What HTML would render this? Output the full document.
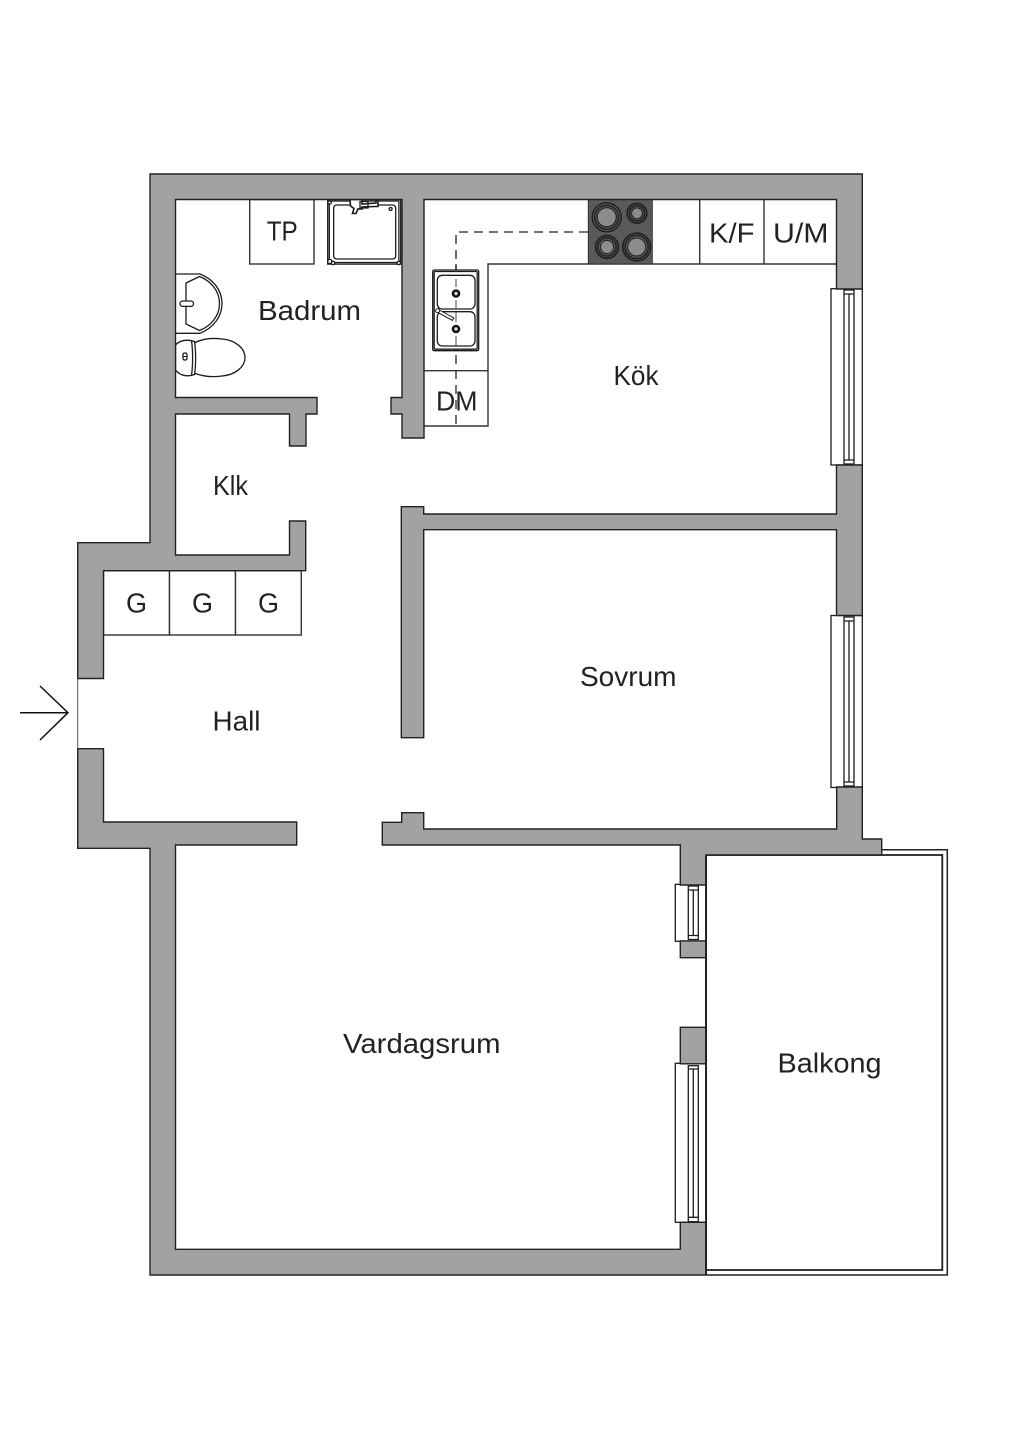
<!DOCTYPE html>
<html><head><meta charset="utf-8"><style>
html,body{margin:0;padding:0;background:#fff}
svg{display:block}
text{font-family:"Liberation Sans",sans-serif;font-size:28px;fill:#222;font-weight:normal}
.w{fill:#a2a2a2;stroke:#222;stroke-width:1.4;stroke-linejoin:miter}
.l{fill:#fff;stroke:#333;stroke-width:1.4}
.t{fill:none;stroke:#1c1c1c;stroke-width:1.3}
.f{fill:#fff;stroke:#1c1c1c;stroke-width:1.3}
</style></head><body>
<svg width="1024" height="1448" viewBox="0 0 1024 1448" xmlns="http://www.w3.org/2000/svg">
<rect width="1024" height="1448" fill="#fff"/>

<!-- balcony -->
<path d="M881.7 849.7H947.3V1275H706" fill="none" stroke="#222" stroke-width="1.5"/>
<path d="M706 855H942.3V1270H706Z" fill="#fff" stroke="#1c1c1c" stroke-width="1.8"/>

<!-- closets and counters -->
<rect class="l" x="103.5" y="570.7" width="66" height="64.3"/>
<rect class="l" x="169.5" y="570.7" width="66" height="64.3"/>
<rect class="l" x="235.5" y="570.7" width="65.8" height="64.3"/>
<rect class="l" x="249.7" y="199.5" width="64.3" height="64.5"/>
<path class="l" d="M424 426H488V264H836.5" style="fill:none"/>
<path class="l" d="M424 370.7H488" style="fill:none"/>
<path class="l" d="M699.7 199.5V264M764 199.5V264" style="fill:none"/>

<!-- dashed -->
<path d="M588 232H456V426" fill="none" stroke="#222" stroke-width="1.3" stroke-dasharray="9 6"/>

<!-- hob -->
<rect x="588.3" y="199.5" width="64" height="64.5" fill="#5a5a5a" stroke="#333"/>
<g fill="#8c8c8c" stroke="#1f1f1f">
<circle cx="606.7" cy="217.3" r="14.5" stroke-width="1.4" fill="#5a5a5a"/><circle cx="606.7" cy="217.3" r="12" stroke-width="1.4" fill="#5a5a5a"/><circle cx="606.7" cy="217.3" r="9.6" stroke-width="1.2"/>
<circle cx="637" cy="213.3" r="10" stroke-width="1.4" fill="#444"/><circle cx="637" cy="213.3" r="7.5" stroke-width="1.3" fill="#5a5a5a"/><circle cx="637" cy="213.3" r="5.4" stroke-width="1"/>
<circle cx="607" cy="247" r="11.5" stroke-width="1.4" fill="#444"/><circle cx="607" cy="247" r="9" stroke-width="1.3" fill="#5a5a5a"/><circle cx="607" cy="247" r="6.6" stroke-width="1"/>
<circle cx="636.7" cy="247" r="14" stroke-width="1.4" fill="#444"/><circle cx="636.7" cy="247" r="11.5" stroke-width="1.3" fill="#5a5a5a"/><circle cx="636.7" cy="247" r="9" stroke-width="1"/>
</g>

<!-- sink -->
<rect class="f" x="432.7" y="270" width="46" height="80.7" rx="1.5"/>
<rect class="t" x="434.2" y="271.5" width="43" height="77.7" rx="1"/>
<rect class="f" x="437.3" y="275.3" width="37.7" height="33.7" rx="5"/>
<rect class="f" x="437.3" y="311.7" width="37.7" height="34.3" rx="5"/>
<path d="M456 264V270" stroke="#222" stroke-width="1.3"/>
<path d="M456 279V287M456 300V309M456 312V322M456 336V346" stroke="#444" stroke-width="1"/>
<circle cx="456" cy="293.5" r="3" fill="#ddd" stroke="#111" stroke-width="2.6"/>
<circle cx="456" cy="329" r="3" fill="#ddd" stroke="#111" stroke-width="2.6"/>
<path d="M438.5 309.5L453.8 318L452.5 320.4L437 312Z" fill="#fff" stroke="#1c1c1c"/>
<circle cx="437.6" cy="310.6" r="2" fill="#fff" stroke="#1c1c1c"/>

<!-- shower -->
<rect class="f" x="327.7" y="199.5" width="73" height="64.6"/>
<rect class="t" x="329.3" y="201" width="69.6" height="61.5"/>
<rect class="t" x="333.7" y="205" width="62" height="54" rx="3" stroke-width="1.7"/>
<circle class="f" cx="329.6" cy="202.5" r="1.7"/><circle class="f" cx="329.8" cy="261.5" r="2.1"/><circle class="f" cx="333" cy="263" r="1.7"/><circle class="f" cx="398.8" cy="263" r="1.7"/><circle class="f" cx="390.6" cy="209" r="1.5"/>
<path class="f" d="M350 199.5H362V204L376 203V200.5H378V206.5H375.5L362 207V209L358 208.8L356 213.5H352.5L354 208.5L350.5 206Z" style="stroke-width:1.6"/>
<path class="t" d="M360 201.5H368V208H360Z"/>

<!-- basin -->
<path class="f" d="M175.5 274H200C213 279 222 290 222 303.5C222 317 213 328 200 333.3H175.5"/>
<path class="t" d="M186 283L199.5 276.5C211 281 219.5 291 219.5 303.5C219.5 316 211 326 199.5 330.5L186 324Z"/>
<rect class="f" x="180" y="301" width="13.5" height="5.4" rx="2.7"/>

<!-- toilet -->
<path class="f" d="M194 343C204 338 215 338 222 339C235 340 245 348 245 357.5C245 367 235 375 222 376C215 377 204 377 194 373Z"/>
<path class="f" d="M175.5 345C180 340 188 339 194.5 341.5C196 351 196 365 194.5 374.5C188 377 180 376 175.5 370Z"/>
<path class="t" d="M191.5 340.6C193 351 193 365 191.5 375.4"/>
<rect x="183" y="353" width="4" height="7" rx="1.5" fill="#fff" stroke="#111" stroke-width="1.2"/>
<path d="M183 356.5H187" stroke="#111"/>

<!-- windows -->
<g>
<rect class="f" x="831" y="288.7" width="31.3" height="176.3"/>
<rect class="f" x="844" y="290" width="10" height="174"/>
<path class="t" d="M849 294V460M844 294H854M844 460H854"/>
<rect class="f" x="831" y="615.5" width="31.3" height="172"/>
<rect class="f" x="844" y="617" width="10" height="169"/>
<path class="t" d="M849 621V782M844 621H854M844 782H854"/>
<rect class="f" x="675.3" y="884.3" width="30.7" height="57"/>
<rect class="f" x="688.3" y="886" width="10" height="53.5"/>
<path class="t" d="M693.3 890V935.5M688.3 890H698.3M688.3 935.5H698.3"/>
<rect class="f" x="675.3" y="1063.3" width="30.7" height="159"/>
<rect class="f" x="688.3" y="1065.7" width="10" height="156"/>
<path class="t" d="M693.3 1069V1217.3M688.3 1069H698.3M688.3 1217.3H698.3"/>
</g>

<!-- walls -->
<path class="w" d="M150 174H862.3V289H836.5V199.5H424V438H402V414H391V397.5H402V199.5H175.5V397.5H317V414H306V446H289.5V414H175.5V555H289.5V521H305.7V570.7H103.5V678.5H77.7V542.7H150Z"/>
<path class="w" d="M77.7 748.7H103.5V822H296.7V845H175.5V1249.3H680.3V1222.3H706V1275H150V848.3H77.7Z"/>
<path class="w" d="M382.3 845V822.3H401.7V812.7H423.7V829H836.7V787H862.3V839H881.7V855H706V885H680.3V845Z"/>
<path class="w" d="M401.3 506.7H423.7V514H836.5V465H862.3V615.5H836.5V529.7H423.7V737.7H401.3Z"/>
<rect class="w" x="680.3" y="940.9" width="25.7" height="16.8"/>
<rect class="w" x="680.3" y="1027.3" width="25.7" height="36.5"/>
<path d="M706 855V1275" stroke="#1c1c1c" stroke-width="1.8"/>

<!-- entry -->
<path d="M77.7 678.5V748.7" stroke="#555" stroke-width="1"/>
<path d="M20 712.7H68M40 686L68 712.7L40 740" fill="none" stroke="#111" stroke-width="1.5"/>

<!-- labels -->
<text x="258" y="320" textLength="103" lengthAdjust="spacingAndGlyphs">Badrum</text>
<text x="613.5" y="385" textLength="45" lengthAdjust="spacingAndGlyphs">Kök</text>
<text x="266.7" y="240.3" textLength="31" lengthAdjust="spacingAndGlyphs">TP</text>
<text x="436" y="410.7" textLength="41.5" lengthAdjust="spacingAndGlyphs">DM</text>
<text x="709" y="242.7" textLength="45.5" lengthAdjust="spacingAndGlyphs">K/F</text>
<text x="773" y="242.7" textLength="55.5" lengthAdjust="spacingAndGlyphs">U/M</text>
<text x="213" y="495" textLength="35" lengthAdjust="spacingAndGlyphs">Klk</text>
<text x="126" y="612.7" textLength="21" lengthAdjust="spacingAndGlyphs">G</text>
<text x="192" y="612.7" textLength="21" lengthAdjust="spacingAndGlyphs">G</text>
<text x="258" y="612.7" textLength="21" lengthAdjust="spacingAndGlyphs">G</text>
<text x="212.5" y="730.7" textLength="48" lengthAdjust="spacingAndGlyphs">Hall</text>
<text x="580" y="686" textLength="96.5" lengthAdjust="spacingAndGlyphs">Sovrum</text>
<text x="343" y="1053" textLength="157.5" lengthAdjust="spacingAndGlyphs">Vardagsrum</text>
<text x="777.5" y="1072.3" textLength="104" lengthAdjust="spacingAndGlyphs">Balkong</text>
</svg>
</body></html>
